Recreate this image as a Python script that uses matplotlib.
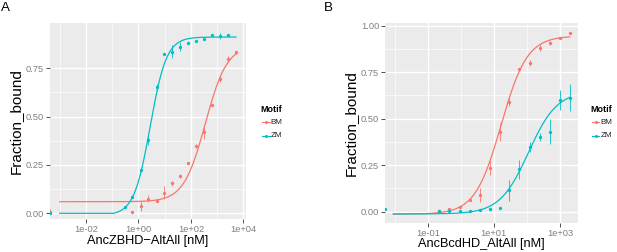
import numpy as np
import matplotlib
matplotlib.use("Agg")
import matplotlib.pyplot as plt
from matplotlib.lines import Line2D
from matplotlib.ticker import FixedLocator, NullFormatter

plt.rcParams["font.family"] = ["Liberation Sans", "DejaVu Sans"]

# -----------------------------------
# DATA
# -----------------------------------

RED = "#F8766D"
CYAN = "#00BFC4"

# panel A : AncZBHD-AltAll, concentration in nM (0 = no protein)
a_zm_conc = [0, 0.295, 0.59, 1.2, 2.4, 4.9, 9.6, 19, 39, 78, 158, 316, 646, 1290, 2630]
a_zm_frac = [0.0, 0.031, 0.086, 0.224, 0.379, 0.652, 0.824, 0.836, 0.862, 0.883,
             0.891, 0.900, 0.920, 0.917, 0.924]
a_zm_err = [0.003, 0.008, 0.007, 0.008, 0.026, 0.019, 0.0, 0.035, 0.024, 0.004,
            0.004, 0.005, 0.004, 0.016, 0.005]

a_bm_conc = [0, 0.59, 1.2, 2.4, 4.9, 9.6, 19, 39, 78, 158, 316, 646, 1290, 2630, 5250]
a_bm_frac = [0.009, 0.005, 0.038, 0.076, 0.064, 0.107, 0.155, 0.193, 0.262, 0.350,
             0.422, 0.560, 0.693, 0.797, 0.833]
a_bm_err = [0.012, 0.0, 0.026, 0.017, 0.005, 0.035, 0.013, 0.008, 0.005, 0.010,
            0.036, 0.005, 0.015, 0.015, 0.008]

# Hill fits: bottom, top, log10 midpoint, slope
a_zm_fit = (-0.01, 0.912, 0.45, 1.4)
a_bm_fit = (0.06, 0.87, 2.55, 1.05)
a_fit_range = (1e-3, 5250)

# panel B : AncBcdHD_AltAll
b_conc = [0.22, 0.44, 0.91, 1.83, 3.77, 7.57, 15.1, 29.2, 58.9, 123, 245, 501, 1000, 2000]
b_bm_frac = [0.005, 0.0125, 0.027, 0.063, 0.090, 0.237, 0.430, 0.591, 0.769, 0.800,
             0.882, 0.909, 0.935, 0.959]
b_bm_err = [0.0, 0.004, 0.0, 0.0, 0.036, 0.039, 0.049, 0.021, 0.0, 0.018,
            0.019, 0.010, 0.004, 0.004]

b_zm_conc = [0] + b_conc
b_zm_frac = [0.0125, 0.005, 0.004, 0.005, 0.004, 0.007, 0.012, 0.020, 0.116, 0.229,
             0.346, 0.400, 0.430, 0.600, 0.613]
b_zm_err = [0.004, 0.0, 0.0, 0.0, 0.0, 0.003, 0.003, 0.008, 0.057, 0.051,
            0.027, 0.022, 0.067, 0.054, 0.074]

b_bm_fit = (-0.013, 0.945, 1.22, 1.1)
b_zm_fit = (-0.012, 0.65, 2.05, 1.0)
b_fit_range = (0.009, 2000)


def hill(conc, fit):
    bottom, top, mid, slope = fit
    return bottom + (top - bottom) / (1 + 10 ** (slope * (mid - np.log10(conc))))


# -----------------------------------
# DRAWING
# -----------------------------------

fig = plt.figure(figsize=(6.17, 2.52), dpi=100)


def draw_panel(ax, series, fit_range, xlim, ylim, xmajor, xminor, yticks, xlabel, clip_zero):
    ax.set_facecolor("#EBEBEB")
    for s in ax.spines.values():
        s.set_visible(False)
    ax.set_xscale("log")
    ax.set_xlim(xlim)
    ax.set_ylim(ylim)

    ax.xaxis.set_major_locator(FixedLocator(xmajor))
    ax.xaxis.set_minor_locator(FixedLocator(xminor))
    ax.xaxis.set_minor_formatter(NullFormatter())
    ax.set_xticklabels(["%.0e" % v for v in xmajor])
    ax.yaxis.set_major_locator(FixedLocator(yticks))
    ax.yaxis.set_minor_locator(FixedLocator(
        [(a + b) / 2 for a, b in zip(yticks[:-1], yticks[1:])]))
    ax.set_yticklabels(["%.2f" % v for v in yticks])

    ax.grid(which="major", color="white", linewidth=1.0)
    ax.grid(which="minor", color="white", linewidth=0.45)
    ax.set_axisbelow(True)
    ax.tick_params(which="major", length=3, width=0.6, color="#333333",
                   labelsize=6.7, labelcolor="#7F7F7F", pad=1.2)
    ax.tick_params(which="minor", length=0)

    grid_x = np.logspace(np.log10(fit_range[0]), np.log10(fit_range[1]), 300)
    for conc, frac, err, fit, color in series:
        curve = hill(grid_x, fit)
        if clip_zero:
            curve = np.maximum(curve, 0)
        ax.plot(grid_x, curve, color=color, linewidth=0.9, zorder=3)
        conc = np.array(conc, dtype=float)
        xs = np.where(conc > 0, conc, xlim[0])
        ax.errorbar(xs, frac, yerr=err, fmt="o", color=color, markersize=2.4,
                    markeredgewidth=0, elinewidth=0.6, capsize=1.4, capthick=0.6,
                    zorder=4)

    ax.set_xlabel(xlabel, fontsize=9.2, labelpad=0.5)
    ax.set_ylabel("Fraction_bound", fontsize=11.0, labelpad=2)


def draw_legend(x0, y0):
    fig.text(x0, y0, "Motif", fontsize=6.4, fontweight="bold", va="center")
    for i, (name, color) in enumerate([("BM", RED), ("ZM", CYAN)]):
        y = y0 - (12.8 + i * 13.4) / 252
        fig.add_artist(Line2D([x0 + 1.5 / 617, x0 + 9.5 / 617], [y, y], color=color,
                              linewidth=0.8, transform=fig.transFigure))
        fig.add_artist(Line2D([x0 + 5.5 / 617], [y], color=color, marker="o",
                              markersize=2.2, markeredgewidth=0,
                              transform=fig.transFigure))
        fig.text(x0 + 10.5 / 617, y, name, fontsize=5.8, color="#222222",
                 va="center")


axA = fig.add_axes([49.5 / 617, 1 - 219.3 / 252, 196.5 / 617, 196 / 252])
draw_panel(axA,
           [(a_bm_conc, a_bm_frac, a_bm_err, a_bm_fit, RED),
            (a_zm_conc, a_zm_frac, a_zm_err, a_zm_fit, CYAN)],
           a_fit_range, (10 ** -3.39, 10 ** 4.10), (-0.031, 0.983),
           [1e-2, 1e0, 1e2, 1e4], [1e-3, 1e-1, 1e1, 1e3],
           [0.0, 0.25, 0.50, 0.75], "AncZBHD\u2212AltAll [nM]", True)

axB = fig.add_axes([385 / 617, 1 - 222.7 / 252, 193.3 / 617, 199.4 / 252])
draw_panel(axB,
           [(b_conc, b_bm_frac, b_bm_err, b_bm_fit, RED),
            (b_zm_conc, b_zm_frac, b_zm_err, b_zm_fit, CYAN)],
           b_fit_range, (10 ** -2.30, 10 ** 3.56), (-0.059, 1.013),
           [1e-1, 1e1, 1e3], [1e-2, 1e0, 1e2],
           [0.0, 0.25, 0.50, 0.75, 1.00], "AncBcdHD_AltAll [nM]", False)

draw_legend(260 / 617, 1 - 109.5 / 252)
draw_legend(590 / 617, 1 - 109.5 / 252)

fig.text(0.5 / 617, 1 - 8 / 252, "A", fontsize=9.6, va="center")
fig.text(324 / 617, 1 - 8 / 252, "B", fontsize=9.6, va="center")

fig.savefig("out.png", dpi=100)
